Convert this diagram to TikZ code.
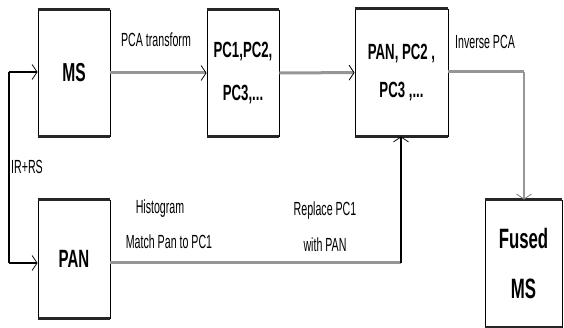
\documentclass[tikz,border=0pt]{standalone}
\usepackage{fontspec}
\newfontfamily\nf[FakeStretch=0.56]{Liberation Sans}
\newfontfamily\bnf[FakeStretch=0.6,UprightFont=*,BoldFont=* Bold]{Liberation Sans}
\usetikzlibrary{arrows.meta}
\definecolor{lgray}{RGB}{150,150,150}
\definecolor{dgray}{RGB}{120,120,120}
\begin{document}
\begin{tikzpicture}[x=1pt,y=-1pt,
  box/.style={draw=black,line width=0.9pt,fill=white,inner sep=0pt,align=center},
  edge/.style={draw=black!85,line width=2.2pt},
  lbl/.style={inner sep=0pt,font={\nf\fontsize{19}{22}\selectfont}},
  tip/.style={-{Straight Barb[length=5pt,width=15pt,line width=0.8pt,#1]}},
  tip/.default=black,
  thickc/.style={draw=lgray,line width=3pt},
  thinc/.style={draw=lgray,line width=1.6pt},
  darkc/.style={draw=black,line width=1.2pt}]
\useasboundingbox (0,0) rectangle (564,328);
% boxes
\node[box,minimum width=72pt,minimum height=126pt,font={\bnf\bfseries\fontsize{26}{28}\selectfont}] (MS) at (74,73) {MS};
\node[box,minimum width=72pt,minimum height=126pt,font={\bnf\bfseries\fontsize{22}{43}\selectfont}] (PC) at (243,73) {PC1,PC2,\\PC3,...};
\node[box,minimum width=93pt,minimum height=127pt,font={\bnf\bfseries\fontsize{22}{38}\selectfont}] (PP) at (401.5,72.5) {PAN, PC2 ,\\PC3 ,...};
\node[box,minimum width=72pt,minimum height=118pt,font={\bnf\bfseries\fontsize{25}{28}\selectfont}] (PAN) at (74,259) {PAN};
\node[box,minimum width=77pt,minimum height=127pt,font={\bnf\bfseries\fontsize{28}{50}\selectfont}] (F) at (523.5,263.5) {Fused\\MS};
\foreach \b in {MS,PC,PP,PAN,F}{
  \draw[edge] (\b.north west) -- (\b.north east);
  \draw[edge] (\b.south west) -- (\b.south east);
}
% connectors
\coordinate (c1) at (524,72);
\coordinate (c2) at (401,263);
\coordinate (L1) at (9,72);
\coordinate (L2) at (9,263);
\draw[thickc,tip] (MS) -- (PC);
\draw[thickc,tip] (PC) -- (PP);
\draw[thickc] (PP.east |- c1) -- (c1);
\draw[thinc,tip=dgray] (c1) -- (c1 |- F.north);
\draw[thickc] (PAN.east |- c2) -- (c2);
\draw[darkc,tip] (c2) -- (c2 |- PP.south);
\draw[darkc] (L1) -- (L2);
\draw[darkc,tip] (L1) -- (MS.west |- L1);
\draw[darkc,tip] (L2) -- (PAN.west |- L2);
% labels
\node[lbl] (t1) at (156,40) {PCA transform};
\node[lbl] (t2) at (485,42) {Inverse PCA};
\node[lbl] (t3) at (160,209) {Histogram};
\node[lbl] (t4) at (169,242) {Match Pan to PC1};
\node[lbl] (t5) at (325,211) {Replace PC1};
\node[lbl] (t6) at (325,245) {with PAN};
\node[lbl,anchor=west] (t7) at (11,167) {IR+RS};
\end{tikzpicture}
\end{document}
